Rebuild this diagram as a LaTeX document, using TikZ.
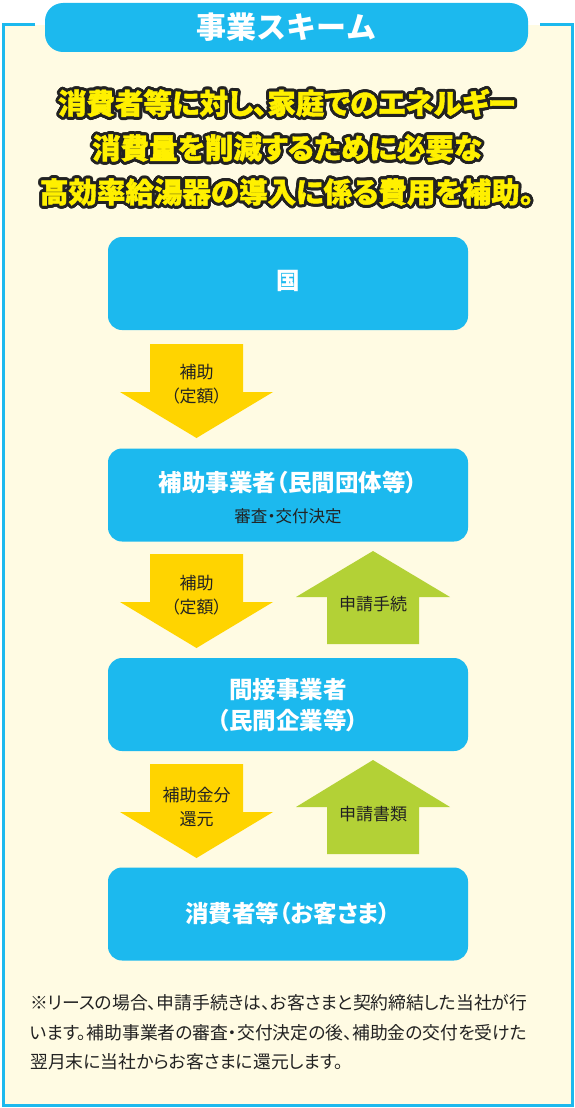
\documentclass[tikz,border=0pt]{standalone}
\usepackage{fontspec}
\newfontfamily\jp{Noto Sans CJK JP}
\newfontfamily\jpp[RawFeature=+palt]{Noto Sans CJK JP}
\newfontfamily\jphl[RawFeature=+palt, BoldFeatures={FakeBold=1.5}]{Noto Sans CJK JP}
\definecolor{cyanb}{HTML}{1CB9EE}
\definecolor{cream}{HTML}{FFFBE3}
\definecolor{ylw}{HTML}{FFD400}
\definecolor{grn}{HTML}{B3D136}
\definecolor{hl}{HTML}{FFF000}
\definecolor{ink}{HTML}{222222}
\tikzset{
  box/.style={fill=cyanb, rounded corners=14pt, minimum width=360pt, minimum height=93pt, inner sep=0pt},
  boxtxt/.style={text=white, font=\jpp\bfseries\fontsize{23.5}{31}\selectfont, align=center, inner sep=0pt},
  subtxt/.style={text=ink, font=\jpp\fontsize{16.5}{20}\selectfont, inner sep=0pt},
  lbl/.style={text=ink, font=\jpp\fontsize{17}{24}\selectfont, align=center, inner sep=0pt},
  yarr/.style={fill=ylw},
  garr/.style={fill=grn},
  hlfont/.style={font=\jphl\bfseries\fontsize{28.5}{30}\selectfont, inner sep=0pt},
  note/.style={text=ink, font=\jpp\fontsize{17.8}{20}\selectfont, anchor=west, inner sep=0pt},
}
\newcommand\outl[4]{%
  \foreach \a in {0,22.5,...,337.5}
    \node[hlfont, text=ink] at ([shift={(\a:3pt)}]#2,#3) {#4};
  \node[hlfont, text=hl] (#1) at (#2,#3) {#4};}
\begin{document}
\begin{tikzpicture}[x=1pt,y=-1pt]
\useasboundingbox (0,0) rectangle (575,1108);
\fill[white] (0,0) rectangle (575,1108);
% frame
\fill[cream] (3,25) rectangle (572,1105);
\draw[cyanb, line width=3pt] (35,25) -- (3,25) -- (3,1105) -- (572,1105) -- (572,25) -- (540,25);
% title tab
\node[fill=cyanb, rounded corners=18pt, minimum width=483pt, minimum height=49pt, inner sep=0pt] (tab) at (286.5,27.5) {};
\node[text=white, font=\jp\bfseries\fontsize{30}{32}\selectfont, inner sep=0pt] (title) at (tab.center) {事業スキーム};
% headline
\outl{h1}{287}{103}{消費者等に対し、家庭でのエネルギー}
\outl{h2}{287}{148}{消費量を削減するために必要な}
\outl{h3}{287}{192}{高効率給湯器の導入に係る費用を補助。}
% boxes
\node[box] (kuni) at (288,283.5) {};
\node[boxtxt] (kunit) at (288,281) {国};
\node[box] (hojo) at (288,495) {};
\node[boxtxt] (hojot) at (288,483) {補助事業者（民間団体等）};
\node[subtxt] (hojos) at (288,516) {審査・交付決定};
\node[box] (kan) at (288,704.5) {};
\node[boxtxt] (kant) at (288,705) {間接事業者\\（民間企業等）};
\node[box] (sho) at (288,914) {};
\node[boxtxt] (shot) at (288,914) {消費者等（お客さま）};
% yellow arrows
\fill[yarr] (150,344) -- (243,344) -- (243,392) -- (273,392) -- (196.5,438) -- (120,392) -- (150,392) -- cycle;
\node[lbl] (a1) at (196.5,384) {補助\\（定額）};
\fill[yarr] (150,554) -- (243,554) -- (243,602) -- (273,602) -- (196.5,648) -- (120,602) -- (150,602) -- cycle;
\node[lbl] (a2) at (196.5,595) {補助\\（定額）};
\fill[yarr] (150,764) -- (243,764) -- (243,812) -- (273,812) -- (196.5,858) -- (120,812) -- (150,812) -- cycle;
\node[lbl] (a3) at (196.5,806.5) {補助金分\\還元};
% green arrows
\fill[garr] (327,644) -- (419,644) -- (419,597) -- (450,597) -- (373,551) -- (296,597) -- (327,597) -- cycle;
\node[lbl] (g1) at (373,604) {申請手続};
\fill[garr] (327,854) -- (419,854) -- (419,807) -- (450,807) -- (373,760) -- (296,807) -- (327,807) -- cycle;
\node[lbl] (g2) at (373,814) {申請書類};
% note
\node[note] (n1) at (30,1003) {※リースの場合、申請手続きは、お客さまと契約締結した当社が行};
\node[note] (n2) at (30,1033) {います。補助事業者の審査・交付決定の後、補助金の交付を受けた};
\node[note] (n3) at (30,1062) {翌月末に当社からお客さまに還元します。};
\end{tikzpicture}
\end{document}
